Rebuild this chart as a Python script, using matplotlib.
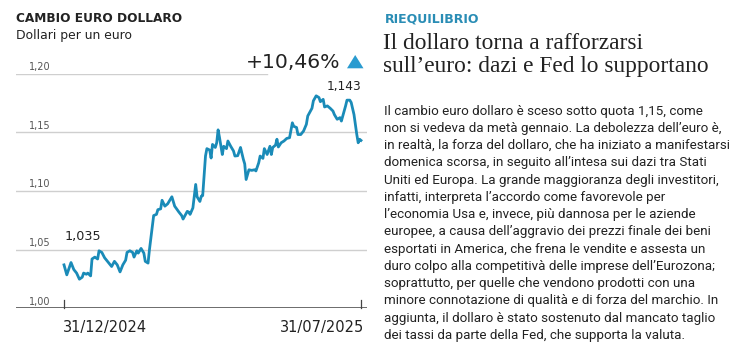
import matplotlib
matplotlib.use("Agg")
import matplotlib.pyplot as plt
from matplotlib.patches import Polygon
import pandas as pd
import numpy as np

# data ------------------------------------------------------------------ #
START = pd.Timestamp("2024-12-31")
days = [0, 2, 5, 7, 9, 11, 13, 14, 16, 17, 19, 20, 22, 24, 25, 27, 29, 31, 34, 36,
        38, 40, 42, 44, 45, 47, 49, 50, 52, 53, 55, 57, 58, 60, 61, 64, 66, 67, 69, 70,
        72, 74, 77, 79, 82, 84, 85, 88, 89, 90, 92, 94, 95, 97, 98, 99, 101, 102, 104, 105,
        106, 108, 109, 110, 111, 113, 114, 116, 117, 119, 121, 122, 124, 126, 128, 129, 130, 132, 134, 136,
        137, 139, 140, 142, 143, 145, 147, 148, 149, 151, 152, 153, 155, 157, 159, 161, 163, 164, 166, 167,
        169, 171, 173, 174, 177, 178, 180, 182, 183, 185, 186, 188, 190, 192, 193, 195, 197, 198, 199, 201,
        202, 204, 205, 207, 208, 209, 210, 211, 212]
rate = [1.037, 1.0285, 1.039, 1.033, 1.030, 1.0248, 1.0265, 1.030, 1.029, 1.030, 1.0276, 1.042, 1.0436, 1.042, 1.049, 1.0476, 1.043, 1.040, 1.0356, 1.040,
        1.037, 1.031, 1.037, 1.041, 1.0476, 1.049, 1.0476, 1.0436, 1.049, 1.047, 1.051, 1.047, 1.040, 1.0385, 1.050, 1.079, 1.080, 1.084, 1.0847, 1.092,
        1.087, 1.089, 1.095, 1.087, 1.082, 1.079, 1.076, 1.0826, 1.082, 1.080, 1.0855, 1.1055, 1.095, 1.091, 1.0955, 1.096, 1.1297, 1.136, 1.1348, 1.128,
        1.1396, 1.137, 1.141, 1.152, 1.1455, 1.131, 1.138, 1.136, 1.1425, 1.138, 1.134, 1.1297, 1.130, 1.137, 1.127, 1.123, 1.1097, 1.118, 1.1175, 1.118,
        1.117, 1.124, 1.1297, 1.1277, 1.136, 1.131, 1.138, 1.131, 1.137, 1.139, 1.144, 1.1374, 1.141, 1.1425, 1.1447, 1.1453, 1.158, 1.155, 1.154, 1.148,
        1.148, 1.151, 1.1567, 1.1638, 1.1704, 1.1767, 1.181, 1.1795, 1.176, 1.178, 1.1715, 1.1724, 1.1704, 1.168, 1.165, 1.161, 1.1624, 1.1595, 1.1638, 1.1724,
        1.1773, 1.1773, 1.1753, 1.165, 1.1567, 1.148, 1.141, 1.144, 1.143]
dates = [START + pd.Timedelta(days=d) for d in days]

y_ticks = [1.00, 1.05, 1.10, 1.15, 1.20]
y_labels = ["1,00", "1,05", "1,10", "1,15", "1,20"]
x_ticks = [pd.Timestamp("2024-12-31"), pd.Timestamp("2025-07-31")]
x_labels = ["31/12/2024", "31/07/2025"]

chart_title = "CAMBIO EURO DOLLARO"
chart_sub = "Dollari per un euro"
change_label = "+10,46%"
first_label = "1,035"
last_label = "1,143"

kicker = "RIEQUILIBRIO"
headline = ["Il dollaro torna a rafforzarsi", "sull\u2019euro: dazi e Fed lo supportano"]
body = [
    "Il cambio euro dollaro è sceso sotto quota 1,15, come",
    "non si vedeva da metà gennaio. La debolezza dell\u2019euro è,",
    "in realtà, la forza del dollaro, che ha iniziato a manifestarsi",
    "domenica scorsa, in seguito all\u2019intesa sui dazi tra Stati",
    "Uniti ed Europa. La grande maggioranza degli investitori,",
    "infatti, interpreta l\u2019accordo come favorevole per",
    "l\u2019economia Usa e, invece, più dannosa per le aziende",
    "europee, a causa dell\u2019aggravio dei prezzi finale dei beni",
    "esportati in America, che frena le vendite e assesta un",
    "duro colpo alla competitivà delle imprese dell\u2019Eurozona;",
    "soprattutto, per quelle che vendono prodotti con una",
    "minore connotazione di qualità e di forza del marchio. In",
    "aggiunta, il dollaro è stato sostenuto dal mancato taglio",
    "dei tassi da parte della Fed, che supporta la valuta.",
]

# style ----------------------------------------------------------------- #
W, H = 744, 354
LINE = "#1a8bb8"
ACCENT = "#2a9bd0"
DARK = "#222222"
GRID = "#cfcfcf"
CHART_FONT = "DejaVu Sans"
BODY_FONT = "Roboto"


def fx(px):
    return px / W


def fy(py):
    return 1 - py / H


fig = plt.figure(figsize=(W / 100, H / 100), dpi=100)
fig.patch.set_facecolor("white")

# chart axes: x 16..367 px, y 1.00 at 308 px, 1.20 at 73.5 px
ax = fig.add_axes([fx(16), fy(308.3), fx(367) - fx(16), fy(73.5) - fy(308.3)])
x_left = START - pd.Timedelta(days=48 * 212 / 297)
x_right = START + pd.Timedelta(days=212 + 6 * 212 / 297)
ax.set_xlim(x_left, x_right)
ax.set_ylim(1.00, 1.20)
ax.axis("off")

# gridlines + labels
for v, lab in zip(y_ticks, y_labels):
    if v == 1.00:
        ax.axhline(v, color="#444444", lw=1.1, zorder=1)
    elif v == 1.20:
        ax.axhline(v, xmin=0, xmax=(267 - 16) / 351, color=GRID, lw=1.0, zorder=1)
    else:
        ax.axhline(v, color=GRID, lw=1.0, zorder=1)
    ax.annotate(lab, xy=(13 / 351, v), xycoords=("axes fraction", "data"),
                xytext=(0, 2.5), textcoords="offset points",
                ha="left", va="baseline", fontsize=7, color="#555555", family=CHART_FONT)

# x ticks
for t, lab, ha in zip(x_ticks, x_labels, ["left", "right"]):
    ax.plot([t, t], [1.00, 1.0068], color="#444444", lw=0.9, clip_on=False)
    ax.annotate(lab, xy=(t, 1.00), xytext=(-0.5 if ha == "left" else 2.5, -17),
                textcoords="offset points", ha=ha, va="baseline",
                fontsize=10.5, color=DARK, family=CHART_FONT)

ax.plot(dates, rate, color=LINE, lw=2.0, solid_joinstyle="round", zorder=3, clip_on=False)

# first / last value
ax.annotate(first_label, xy=(dates[0], rate[0]), xytext=(0.7, 18), textcoords="offset points",
            ha="left", va="baseline", fontsize=9.2, color=DARK, family=CHART_FONT)
ax.annotate(last_label, xy=(dates[-1], rate[-1]), xytext=(0.5, 36), textcoords="offset points",
            ha="right", va="baseline", fontsize=8.7, color=DARK, family=CHART_FONT)

# chart headings
fig.text(fx(16), fy(21.7), chart_title, fontsize=8.7, fontweight="bold", color=DARK,
         family=CHART_FONT, va="baseline", ha="left")
fig.text(fx(16), fy(39.5), chart_sub, fontsize=8.9, color=DARK,
         family=CHART_FONT, va="baseline", ha="left")
fig.text(fx(340), fy(68.3), change_label, fontsize=14.7, color=DARK,
         family=CHART_FONT, va="baseline", ha="right")
fig.add_artist(Polygon([(fx(347), fy(68.3)), (fx(363.5), fy(68.3)), (fx(355.2), fy(55))],
                       closed=True, facecolor=ACCENT, edgecolor="none",
                       transform=fig.transFigure))

# right column
fig.text(fx(384.5), fy(22), kicker, fontsize=9, fontweight="bold", color="#2a8db5",
         family=CHART_FONT, va="baseline", ha="left")
for i, line in enumerate(headline):
    fig.text(fx(383), fy(49 + i * 22.7), line, fontsize=16.8, color=DARK,
             family="Liberation Serif", va="baseline", ha="left")
for i, line in enumerate(body):
    fig.text(fx(384), fy(114.5 + i * 17.27), line, fontsize=9.6, color=DARK,
             family=BODY_FONT, va="baseline", ha="left")

plt.savefig("out.png", dpi=100, facecolor="white")
